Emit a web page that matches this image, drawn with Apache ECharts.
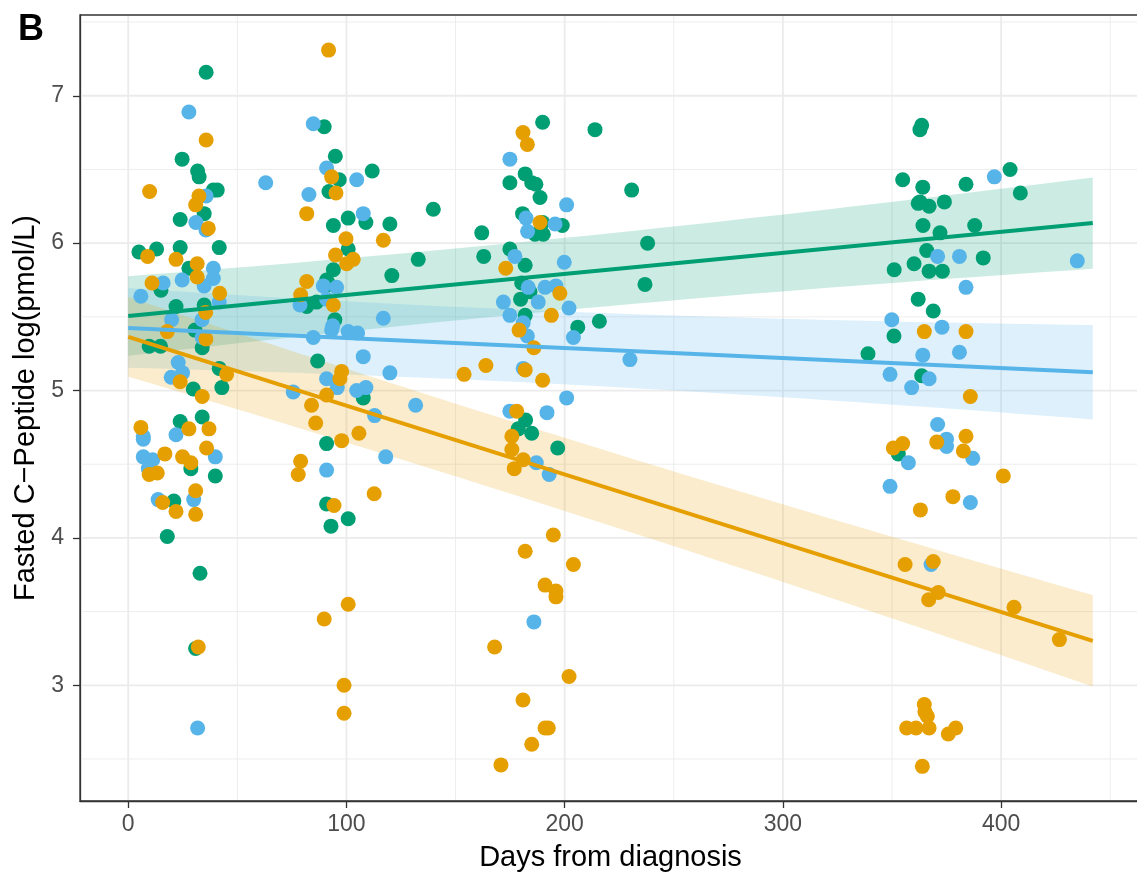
<!DOCTYPE html>
<html>
<head>
<meta charset="utf-8">
<title>Fasted C-Peptide</title>
<script src="https://cdn.jsdelivr.net/npm/echarts@6/dist/echarts.min.js"></script>
<style>
html, body { margin: 0; padding: 0; background: #fff; }
#main { width: 1137px; height: 872px; }
</style>
</head>
<body>
<div id="main"></div>
<script>
'use strict';

// [days from diagnosis, log(pmol/L)] per group
var greenPoints = [
	[35.7, 7.16], [24.7, 6.57], [31.8, 6.49], [32.5, 6.45], [39.0, 6.36], [40.8, 6.36], [34.8, 6.20], [23.8, 6.16],
	[4.9, 5.94], [13.0, 5.96], [23.8, 5.97], [41.7, 5.97], [27.8, 5.83], [15.0, 5.68], [21.9, 5.57], [34.8, 5.58],
	[30.6, 5.41], [33.9, 5.29], [9.6, 5.30], [14.8, 5.30], [29.8, 5.01], [41.7, 5.15], [42.9, 5.02], [23.8, 4.79],
	[33.9, 4.82], [28.7, 4.47], [39.9, 4.42], [20.9, 4.25], [17.9, 4.01], [32.9, 3.76], [30.9, 3.25],
	[89.8, 6.79], [94.9, 6.59], [96.7, 6.43], [111.8, 6.49], [92.0, 6.35], [100.8, 6.17], [94.0, 6.12], [108.9, 6.14],
	[119.9, 6.13], [139.8, 6.23], [100.8, 5.96], [132.9, 5.89], [94.0, 5.82], [120.8, 5.78], [90.9, 5.75], [92.0, 5.72],
	[81.8, 5.57], [86.3, 5.60], [94.7, 5.48], [86.8, 5.20], [107.7, 4.95], [90.9, 4.64], [90.9, 4.23], [100.8, 4.13],
	[92.9, 4.08],
	[189.9, 6.82], [213.9, 6.77], [181.9, 6.47], [174.9, 6.41], [184.9, 6.41], [186.8, 6.40], [188.7, 6.31], [230.7, 6.36],
	[180.7, 6.20], [189.9, 6.14], [198.9, 6.12], [186.4, 6.06], [190.2, 6.06], [162.0, 6.07], [238.0, 6.00], [174.9, 5.96],
	[162.9, 5.91], [181.9, 5.85], [236.8, 5.72], [180.3, 5.73], [184.1, 5.67], [179.8, 5.62], [181.9, 5.51], [215.9, 5.47],
	[206.0, 5.43], [182.1, 4.80], [178.7, 4.74], [184.9, 4.71], [196.8, 4.61],
	[363.6, 6.80], [362.8, 6.77], [354.9, 6.43], [364.1, 6.38], [383.9, 6.40], [404.1, 6.50], [408.8, 6.34], [362.0, 6.27],
	[362.8, 6.28], [367.0, 6.25], [374.0, 6.28], [364.2, 6.12], [372.0, 6.07], [387.9, 6.12], [365.9, 5.95], [391.8, 5.90],
	[351.0, 5.82], [360.1, 5.86], [367.0, 5.81], [373.1, 5.81], [362.0, 5.62], [368.9, 5.54], [350.9, 5.37], [339.0, 5.25],
	[363.6, 5.10], [352.9, 4.57]
];
var bluePoints = [
	[27.8, 6.89], [35.7, 6.32], [31.0, 6.14], [35.6, 6.09], [39.0, 5.83], [39.0, 5.76], [34.8, 5.71], [41.7, 5.60],
	[16.0, 5.73], [5.8, 5.64], [24.7, 5.75], [19.9, 5.48], [33.8, 5.48], [33.9, 5.36], [22.9, 5.19], [19.7, 5.09],
	[24.9, 5.12], [6.9, 4.67], [6.9, 4.69], [21.9, 4.70], [39.9, 4.55], [6.9, 4.55], [11.2, 4.53], [9.2, 4.47],
	[30.0, 4.26], [13.7, 4.26], [31.8, 2.71],
	[84.8, 6.81], [90.9, 6.51], [104.7, 6.43], [63.0, 6.41], [82.8, 6.33], [107.7, 6.20], [89.4, 5.71], [95.5, 5.70],
	[78.7, 5.58], [90.9, 5.62], [93.7, 5.44], [93.2, 5.41], [84.8, 5.36], [100.8, 5.40], [105.1, 5.39], [116.9, 5.49],
	[107.7, 5.23], [119.9, 5.12], [90.9, 5.08], [95.8, 5.02], [75.6, 4.99], [104.7, 5.00], [108.9, 5.02], [131.7, 4.90],
	[112.9, 4.83], [118.0, 4.55], [90.9, 4.46],
	[174.9, 6.57], [200.9, 6.26], [182.3, 6.17], [195.6, 6.13], [183.0, 6.08], [177.2, 5.91], [199.8, 5.87], [183.3, 5.70],
	[191.0, 5.70], [196.0, 5.71], [171.9, 5.60], [187.9, 5.60], [202.0, 5.56], [174.9, 5.51], [181.0, 5.46], [182.9, 5.37],
	[204.0, 5.36], [229.9, 5.21], [181.0, 5.15], [200.9, 4.95], [174.9, 4.86], [191.9, 4.85], [187.0, 4.51], [192.9, 4.43],
	[185.9, 3.43],
	[396.9, 6.45], [370.9, 5.91], [380.9, 5.91], [383.9, 5.70], [349.9, 5.48], [372.9, 5.43], [364.1, 5.24], [380.9, 5.26],
	[349.1, 5.11], [367.0, 5.08], [359.0, 5.02], [370.9, 4.77], [375.0, 4.67], [375.0, 4.62], [387.0, 4.54], [357.5, 4.51],
	[349.1, 4.35], [385.9, 4.24], [367.9, 3.82], [434.9, 5.88]
];
var orangePoints = [
	[35.7, 6.70], [9.8, 6.35], [32.4, 6.32], [30.9, 6.26], [36.7, 6.10], [8.9, 5.91], [21.9, 5.89], [31.6, 5.86],
	[31.6, 5.77], [41.9, 5.66], [10.9, 5.73], [35.5, 5.53], [17.9, 5.40], [35.6, 5.35], [23.8, 5.06], [45.1, 5.11],
	[33.9, 4.96], [5.8, 4.75], [27.8, 4.74], [37.0, 4.74], [16.8, 4.57], [35.9, 4.61], [9.6, 4.43], [13.3, 4.44],
	[24.9, 4.55], [28.7, 4.51], [30.9, 4.32], [15.8, 4.24], [21.9, 4.18], [30.9, 4.16], [32.1, 3.26],
	[91.8, 7.31], [93.2, 6.45], [95.2, 6.34], [81.8, 6.20], [116.9, 6.02], [99.8, 6.03], [95.0, 5.92], [100.1, 5.86],
	[103.1, 5.89], [81.8, 5.74], [79.0, 5.65], [94.0, 5.58], [97.8, 5.13], [97.0, 5.08], [90.9, 4.97], [84.0, 4.90],
	[85.9, 4.78], [105.7, 4.71], [97.8, 4.66], [79.0, 4.52], [77.9, 4.43], [112.7, 4.30], [94.3, 4.22], [100.8, 3.55],
	[89.8, 3.45], [98.9, 3.00], [98.9, 2.81],
	[180.9, 6.75], [182.9, 6.67], [188.7, 6.14], [173.0, 5.83], [197.8, 5.66], [193.9, 5.51], [179.1, 5.41], [185.9, 5.29],
	[163.9, 5.17], [153.9, 5.11], [181.9, 5.14], [189.9, 5.07], [178.0, 4.86], [175.8, 4.69], [175.8, 4.60], [181.0, 4.53],
	[176.9, 4.47], [194.8, 4.02], [181.9, 3.91], [204.0, 3.82], [191.0, 3.68], [196.0, 3.64], [196.0, 3.60], [167.9, 3.26],
	[202.0, 3.06], [180.9, 2.90], [191.0, 2.71], [192.5, 2.71], [184.9, 2.60], [170.8, 2.46],
	[364.8, 5.40], [383.9, 5.40], [385.9, 4.96], [383.9, 4.69], [370.5, 4.65], [382.7, 4.59], [350.6, 4.61], [354.9, 4.64],
	[401.0, 4.42], [377.9, 4.28], [363.0, 4.19], [356.0, 3.82], [368.9, 3.84], [371.2, 3.63], [366.8, 3.58], [405.9, 3.53],
	[426.7, 3.31], [364.8, 2.87], [365.1, 2.82], [366.2, 2.79], [356.7, 2.71], [361.0, 2.71], [367.0, 2.71], [375.8, 2.67],
	[379.2, 2.71], [363.9, 2.45]
];

// fitted lm lines read at both ends of the fit range, and the half-width of
// the 95% band at those same two ends
var fitDays = [0, 442];
var greenFitValues = [5.506, 6.136];
var blueFitValues = [5.425, 5.124];
var orangeFitValues = [5.364, 3.302];
var greenBandHalf = [0.27, 0.31];
var blueBandHalf = [0.27, 0.32];
var orangeBandHalf = [0.27, 0.31];

var xTicks = [0, 100, 200, 300, 400];
var xMinorTicks = [50, 150, 250, 350, 450];
var yTicks = [3, 4, 5, 6, 7];
var yMinorTicks = [2.5, 3.5, 4.5, 5.5, 6.5, 7.5];
var xRange = [-22.1, 464.1];
var yRange = [2.215, 7.548];

var GREEN = '#009E73', BLUE = '#56B4E9', ORANGE = '#E69F00';
var FONT = '"Liberation Sans", Arial, sans-serif';

// the band of a straight-line fit widens as a hyperbola around the mean day
function buildFit(points, values, half) {
	var xc = 0;
	points.forEach(function (p) { xc += p[0] / points.length; });
	var d0 = Math.pow(fitDays[0] - xc, 2), d1 = Math.pow(fitDays[1] - xc, 2);
	var B = (half[1] * half[1] - half[0] * half[0]) / (d1 - d0);
	var A = half[0] * half[0] - B * d0;
	var slope = (values[1] - values[0]) / (fitDays[1] - fitDays[0]);
	var steps = 40, band = [];
	for (var k = 0; k <= steps; k++) {
		var x = fitDays[0] + (fitDays[1] - fitDays[0]) * k / steps;
		var y = values[0] + slope * (x - fitDays[0]);
		var hw = Math.sqrt(Math.max(A + B * (x - xc) * (x - xc), 0));
		band.push([x, y - hw, y + hw]);
	}
	return {
		line: [[fitDays[0], values[0]], [fitDays[1], values[1]]],
		band: band
	};
}

function gridLines(values, vertical, width) {
	return {
		type: 'custom',
		silent: true,
		data: values.map(function (v) { return vertical ? [v, yRange[0]] : [xRange[0], v]; }),
		renderItem: function (params, api) {
			var cs = params.coordSys;
			var p = api.coord([api.value(0), api.value(1)]);
			var shape = vertical ?
				{ x1: p[0], y1: cs.y + 1, x2: p[0], y2: cs.y + cs.height - 1 } :
				{ x1: cs.x + 1, y1: p[1], x2: cs.x + cs.width, y2: p[1] };
			return { type: 'line', shape: shape, style: { stroke: '#EBEBEB', lineWidth: width } };
		}
	};
}

function scatter(points, color) {
	return {
		type: 'scatter',
		data: points,
		symbolSize: 15,
		itemStyle: { color: color, opacity: 1 },
		silent: true
	};
}

function bandSeries(fit, color) {
	return {
		type: 'custom',
		silent: true,
		data: [fit.band[0]],
		renderItem: function (params, api) {
			var pts = [], i;
			for (i = 0; i < fit.band.length; i++) pts.push(api.coord([fit.band[i][0], fit.band[i][2]]));
			for (i = fit.band.length - 1; i >= 0; i--) pts.push(api.coord([fit.band[i][0], fit.band[i][1]]));
			return {
				type: 'polygon',
				shape: { points: pts },
				style: { fill: color, opacity: 0.2 }
			};
		}
	};
}

function lineSeries(fit, color) {
	return {
		type: 'line',
		data: fit.line,
		symbol: 'none',
		silent: true,
		lineStyle: { color: color, width: 4 }
	};
}

var greenFit = buildFit(greenPoints, greenFitValues, greenBandHalf);
var blueFit = buildFit(bluePoints, blueFitValues, blueBandHalf);
var orangeFit = buildFit(orangePoints, orangeFitValues, orangeBandHalf);

var nameStyle = { color: '#000', fontSize: 29, fontFamily: FONT };
var tickStyle = { color: '#333', width: 1.3 };

var chart = echarts.init(document.getElementById('main'));
chart.setOption({
	animation: false,
	backgroundColor: '#fff',
	grid: {
		left: 80, right: -4, top: 15, bottom: 71,
		show: true, borderColor: '#333', borderWidth: 1.3,
		containLabel: false, outerBoundsMode: 'none'
	},
	graphic: [{
		type: 'text', left: 18, top: 12,
		style: { text: 'B', font: 'bold 36px ' + FONT, fill: '#000' }
	}],
	xAxis: {
		type: 'value',
		min: xRange[0], max: xRange[1],
		name: 'Days from diagnosis', nameLocation: 'middle', nameGap: 42,
		nameTextStyle: nameStyle,
		axisLine: { show: true, onZero: false, lineStyle: tickStyle },
		splitLine: { show: false },
		axisTick: { show: true, customValues: xTicks, length: 7, lineStyle: tickStyle },
		axisLabel: { customValues: xTicks, color: '#4D4D4D', fontSize: 23, margin: 12, fontFamily: FONT }
	},
	yAxis: {
		type: 'value',
		min: yRange[0], max: yRange[1],
		name: 'Fasted C\u2212Peptide log(pmol/L)', nameLocation: 'middle', nameGap: 31,
		nameTextStyle: nameStyle,
		axisLine: { show: true, onZero: false, lineStyle: tickStyle },
		splitLine: { show: false },
		axisTick: { show: true, customValues: yTicks, length: 7, lineStyle: tickStyle },
		axisLabel: { customValues: yTicks, color: '#4D4D4D', fontSize: 23, margin: 16, fontFamily: FONT }
	},
	series: [
		gridLines(xMinorTicks, true, 0.9),
		gridLines(yMinorTicks, false, 0.9),
		gridLines(xTicks, true, 1.8),
		gridLines(yTicks, false, 1.8),
		scatter(greenPoints, GREEN),
		scatter(bluePoints, BLUE),
		scatter(orangePoints, ORANGE),
		bandSeries(greenFit, GREEN),
		bandSeries(blueFit, BLUE),
		bandSeries(orangeFit, ORANGE),
		lineSeries(greenFit, GREEN),
		lineSeries(blueFit, BLUE),
		lineSeries(orangeFit, ORANGE)
	]
});
</script>
</body>
</html>
